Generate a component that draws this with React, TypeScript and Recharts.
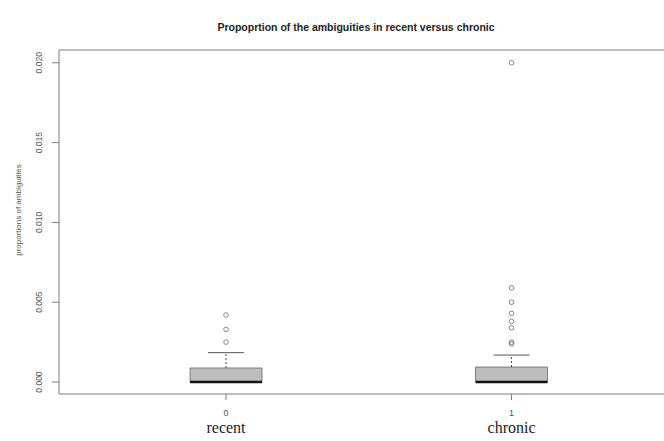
import {
  ComposedChart,
  ReferenceArea,
  ReferenceLine,
  Scatter,
  XAxis,
  YAxis,
} from 'recharts';

// group positions on the x axis and their labels
const groupPos = [1, 2];
const groupCode = ['0', '1'];
const groupName = ['recent', 'chronic'];

// box stats (lower hinge, median, upper hinge, upper whisker)
const q1 = [0, 0];
const median = [0, 0];
const q3 = [0.00088, 0.00094];
const whiskerHi = [0.00184, 0.00169];

// outliers
const recentOutliers = [0.0025, 0.0033, 0.0042];
const chronicOutliers = [0.0024, 0.0025, 0.0034, 0.0038, 0.0043, 0.005, 0.0059, 0.02];

const yTicks = [0, 0.005, 0.01, 0.015, 0.02];
const Y_MIN = -0.00075;
const Y_MAX = 0.0208;
const X_MIN = 0.415;
const X_MAX = 2.534;
const BOX_HALF = 0.126;
const CAP_HALF = 0.063;

const AXIS = '#7a7a7a';

const outlierData = [
  ...recentOutliers.map((y) => ({ x: groupPos[0], y })),
  ...chronicOutliers.map((y) => ({ x: groupPos[1], y })),
];

function YTick({ x, y, payload }: { x?: number; y?: number; payload?: { value: number } }) {
  const v = payload?.value ?? 0;
  return (
    <text
      x={0}
      y={0}
      transform={`translate(${(x ?? 0) - 8}, ${y}) rotate(-90)`}
      textAnchor="middle"
      fontSize={8.5}
      fill="#555"
      fontFamily="Liberation Sans, Arial, sans-serif"
    >
      {v.toFixed(3)}
    </text>
  );
}

function XTick({ x, y, payload }: { x?: number; y?: number; payload?: { value: number } }) {
  const i = groupPos.indexOf(payload?.value ?? 0);
  return (
    <g>
      <text
        x={x}
        y={(y ?? 0) + 14}
        textAnchor="middle"
        fontSize={9}
        fill="#555"
        fontFamily="Liberation Sans, Arial, sans-serif"
      >
        {groupCode[i]}
      </text>
      <text
        x={x}
        y={(y ?? 0) + 31}
        textAnchor="middle"
        fontSize={16}
        fill="#222"
        fontFamily="Liberation Serif, Times New Roman, serif"
      >
        {groupName[i]}
      </text>
    </g>
  );
}

function Outlier({ cx, cy }: { cx?: number; cy?: number }) {
  return <circle cx={cx} cy={cy} r={2.3} fill="none" stroke="#777" strokeWidth={0.9} />;
}

export default function App() {
  return (
    <div
      style={{
        position: 'absolute',
        left: 0,
        top: 0,
        width: 664,
        height: 441,
        background: '#fff',
        overflow: 'hidden',
      }}
    >
      <div
        style={{
          position: 'absolute',
          left: 0,
          width: 712,
          top: 21,
          textAlign: 'center',
          fontFamily: 'Liberation Sans, Arial, sans-serif',
          fontWeight: 'bold',
          fontSize: 10.5,
          color: '#222',
        }}
      >
        Propoprtion of the ambiguities in recent versus chronic
      </div>
      <ComposedChart
        width={664}
        height={441}
        margin={{ top: 50, right: 0, left: 0, bottom: 0 }}
        style={{ position: 'absolute', left: 0, top: 0 }}
      >
        <XAxis
          type="number"
          dataKey="x"
          domain={[X_MIN, X_MAX]}
          ticks={groupPos}
          allowDataOverflow
          height={47}
          stroke={AXIS}
          tickSize={6}
          tick={<XTick />}
        />
        <YAxis
          type="number"
          dataKey="y"
          domain={[Y_MIN, Y_MAX]}
          ticks={yTicks}
          allowDataOverflow
          width={59}
          stroke={AXIS}
          tickSize={7}
          tick={<YTick />}
          label={(props: { viewBox?: { x: number; y: number; height: number } }) => {
            const vb = props.viewBox ?? { x: 0, y: 0, height: 0 };
            const cy = vb.y + vb.height / 2 - 12;
            return (
              <text
                transform={`translate(21, ${cy}) rotate(-90)`}
                textAnchor="middle"
                fontSize={8}
                fill="#555"
                fontFamily="Liberation Sans, Arial, sans-serif"
              >
                proportions of ambiguities
              </text>
            );
          }}
        />
        <ReferenceLine y={Y_MAX} stroke={AXIS} strokeWidth={1.2} ifOverflow="visible" />
        {groupPos.map((p, i) => (
          <ReferenceLine
            key={`w${i}`}
            segment={[
              { x: p, y: q3[i] },
              { x: p, y: whiskerHi[i] },
            ]}
            stroke="#444"
            strokeDasharray="2 2"
          />
        ))}
        {groupPos.map((p, i) => (
          <ReferenceLine
            key={`c${i}`}
            segment={[
              { x: p - CAP_HALF, y: whiskerHi[i] },
              { x: p + CAP_HALF, y: whiskerHi[i] },
            ]}
            stroke="#555"
          />
        ))}
        {groupPos.map((p, i) => (
          <ReferenceArea
            key={`b${i}`}
            x1={p - BOX_HALF}
            x2={p + BOX_HALF}
            y1={q1[i]}
            y2={q3[i]}
            fill="#bdbdbd"
            fillOpacity={1}
            stroke="#666"
            strokeWidth={0.8}
          />
        ))}
        {groupPos.map((p, i) => (
          <ReferenceLine
            key={`m${i}`}
            segment={[
              { x: p - BOX_HALF, y: median[i] },
              { x: p + BOX_HALF, y: median[i] },
            ]}
            stroke="#111"
            strokeWidth={2.5}
          />
        ))}
        <Scatter data={outlierData} dataKey="y" shape={<Outlier />} isAnimationActive={false} />
      </ComposedChart>
    </div>
  );
}
